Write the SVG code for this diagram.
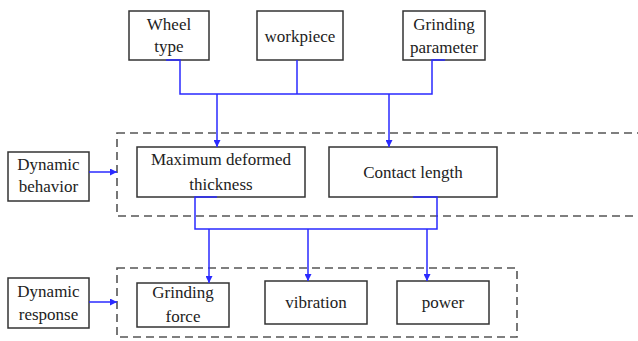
<svg xmlns="http://www.w3.org/2000/svg" width="638" height="341" viewBox="0 0 638 341" font-family="Liberation Serif" font-size="17">
<defs>
<marker id="ah" viewBox="0 0 10 10" refX="10" refY="5" markerWidth="7" markerHeight="7" orient="auto" markerUnits="userSpaceOnUse">
<path d="M0,0 L10,5 L0,10 z" fill="#2a2aff"/>
</marker>
</defs>
<rect width="638" height="341" fill="#fff"/>
<g fill="none" stroke="#555" stroke-width="1.6" stroke-dasharray="8,5">
<g id="group-behavior"><rect x="117" y="133" width="522" height="83"/></g>
<g id="group-response"><rect x="117" y="268" width="400" height="69"/></g>
</g>
<g fill="#222" text-anchor="middle" font-family="Liberation Serif" font-size="17">
<g id="wheel-type"><rect fill="#fff" stroke="#333" stroke-width="1.5" x="129" y="11" width="80" height="49"/><text font-family="Liberation Serif" x="169" y="30">Wheel</text><text font-family="Liberation Serif" x="169" y="52">type</text></g>
<g id="workpiece"><rect fill="#fff" stroke="#333" stroke-width="1.5" x="257" y="11" width="86" height="49"/><text font-family="Liberation Serif" x="300" y="42">workpiece</text></g>
<g id="grinding-parameter"><rect fill="#fff" stroke="#333" stroke-width="1.5" x="403" y="11" width="82" height="49"/><text font-family="Liberation Serif" x="444" y="30">Grinding</text><text font-family="Liberation Serif" x="444" y="53">parameter</text></g>
<g id="dynamic-behavior"><rect fill="#fff" stroke="#333" stroke-width="1.5" x="8" y="152" width="81" height="49"/><text font-family="Liberation Serif" x="48.5" y="170">Dynamic</text><text font-family="Liberation Serif" x="48.5" y="192">behavior</text></g>
<g id="max-deformed"><rect fill="#fff" stroke="#333" stroke-width="1.5" x="137" y="147" width="168" height="50"/><text font-family="Liberation Serif" x="221" y="165">Maximum deformed</text><text font-family="Liberation Serif" x="221" y="190">thickness</text></g>
<g id="contact-length"><rect fill="#fff" stroke="#333" stroke-width="1.5" x="329" y="147" width="168" height="50"/><text font-family="Liberation Serif" x="413" y="178">Contact length</text></g>
<g id="dynamic-response"><rect fill="#fff" stroke="#333" stroke-width="1.5" x="8" y="278" width="81" height="50"/><text font-family="Liberation Serif" x="48.5" y="297">Dynamic</text><text font-family="Liberation Serif" x="48.5" y="320">response</text></g>
<g id="grinding-force"><rect fill="#fff" stroke="#333" stroke-width="1.5" x="137" y="283" width="92" height="44"/><text font-family="Liberation Serif" x="183" y="298">Grinding</text><text font-family="Liberation Serif" x="183" y="322">force</text></g>
<g id="vibration"><rect fill="#fff" stroke="#333" stroke-width="1.5" x="265" y="281" width="102" height="43"/><text font-family="Liberation Serif" x="316" y="308">vibration</text></g>
<g id="power"><rect fill="#fff" stroke="#333" stroke-width="1.5" x="397" y="281" width="92" height="43"/><text font-family="Liberation Serif" x="443" y="308">power</text></g>
</g>
<g id="connectors" fill="none" stroke="#2a2aff" stroke-width="1.5">
<path d="M166,60 H180 V94 H432 V60 H445"/>
<path d="M297,60 V94"/>
<path d="M217,94 V147" marker-end="url(#ah)"/>
<path d="M389,94 V147" marker-end="url(#ah)"/>
<path d="M89,172 H117" marker-end="url(#ah)"/>
<path d="M217,197 H195 V229 H437 V197 H413"/>
<path d="M209,229 V283" marker-end="url(#ah)"/>
<path d="M308,229 V281" marker-end="url(#ah)"/>
<path d="M427,229 V281" marker-end="url(#ah)"/>
<path d="M89,302 H117" marker-end="url(#ah)"/>
</g>
</svg>
